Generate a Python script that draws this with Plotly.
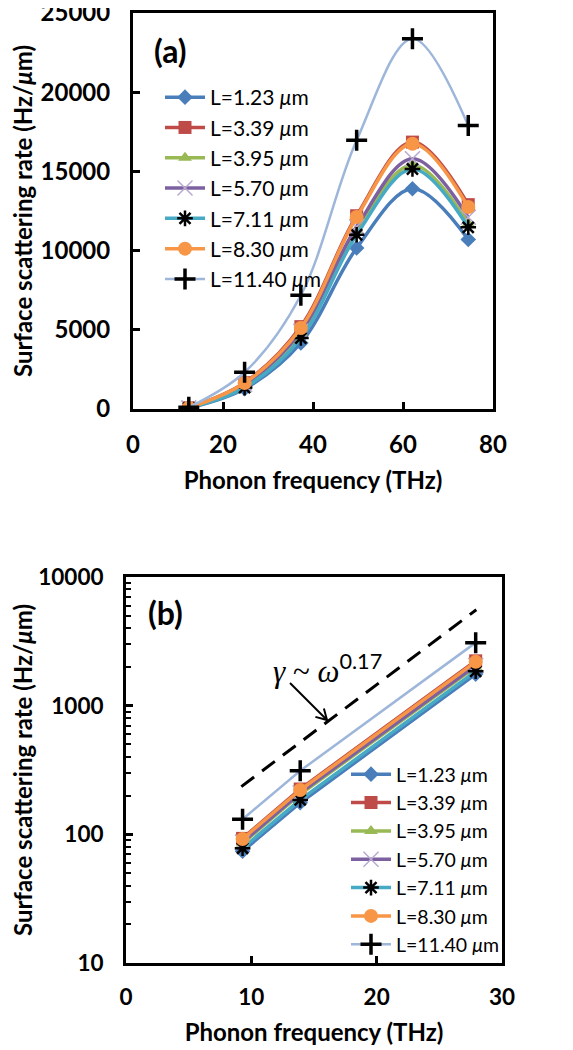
import plotly.graph_objects as go

# ---------------- data ----------------
names = ["L=1.23 <i>μ</i>m", "L=3.39 <i>μ</i>m", "L=3.95 <i>μ</i>m", "L=5.70 <i>μ</i>m",
         "L=7.11 <i>μ</i>m", "L=8.30 <i>μ</i>m", "L=11.40 <i>μ</i>m"]

# panel (a)
freq_a = [12.4, 24.8, 37.3, 49.7, 62.1, 74.5]
rate_a_123 = [60, 1280, 4170, 10160, 13900, 10700]
rate_a_339 = [75, 1660, 5200, 12200, 16850, 12900]
rate_a_395 = [70, 1500, 4800, 11300, 15400, 11700]
rate_a_570 = [72, 1550, 4900, 11500, 15800, 12100]
rate_a_711 = [65, 1350, 4480, 11000, 15150, 11470]
rate_a_830 = [76, 1640, 5110, 12120, 16750, 12750]
rate_a_1140 = [105, 2320, 7180, 16960, 23380, 17890]

# panel (b)
freq_b = [9.3, 13.9, 27.9]
rate_b_123 = [74, 176, 1760]
rate_b_339 = [93, 225, 2230]
rate_b_395 = [85, 205, 2000]
rate_b_570 = [87, 210, 2050]
rate_b_711 = [78, 185, 1850]
rate_b_830 = [92, 221, 2190]
rate_b_1140 = [131, 312, 3090]

# guide line gamma ~ omega^0.17
guide_x = [9.2, 27.95]
guide_y = [235, 5570]

xticks_a = [0, 20, 40, 60, 80]
yticks_a = [0, 5000, 10000, 15000, 20000, 25000]
yticktext_a = ["0", "5000", "10000", "15000", "20000", "25000"]
xticks_b = [0, 10, 20, 30]
yticks_b = [10, 100, 1000, 10000]
yticktext_b = ["10", "100", "1000", "10000"]

# ---------------- styles ----------------
colors = ["#4A7EBB", "#BE4B48", "#98B954", "#7D60A0", "#46AAC5", "#F79646", "#9DB6DA"]
symbols = ["diamond", "square", "triangle-up", "x-thin-open", "asterisk-open", "circle", "cross-thin-open"]
mcolors = ["#4A7EBB", "#BE4B48", "#98B954", "#B9AAD0", "black", "#F79646", "black"]
msizes = [12, 13, 12, 15, 13, 14, 15]
mline_widths = [0, 0, 0, 1.5, 2.5, 0, 3.5]
lwidths = [3.5, 3.5, 3.5, 3.5, 3.5, 3.5, 2.5]

series_a = [rate_a_123, rate_a_339, rate_a_395, rate_a_570, rate_a_711, rate_a_830, rate_a_1140]
series_b = [rate_b_123, rate_b_339, rate_b_395, rate_b_570, rate_b_711, rate_b_830, rate_b_1140]

FONT = "Lato"
OFF = 8  # page body margin of the html page
W, H = 573 - OFF, 1050 - OFF

fig = go.Figure()


def marker(i):
    return dict(symbol=symbols[i], size=msizes[i], color=mcolors[i],
                line=dict(color=mcolors[i], width=mline_widths[i]))


for i in range(7):
    fig.add_trace(go.Scatter(
        x=freq_a, y=series_a[i], name=names[i], mode="lines+markers",
        line=dict(color=colors[i], width=lwidths[i], shape="spline", smoothing=1.0),
        marker=marker(i), xaxis="x", yaxis="y", legend="legend"))

fig.add_trace(go.Scatter(
    x=guide_x, y=guide_y, mode="lines", showlegend=False,
    line=dict(color="black", width=3, dash="16px,10px"), xaxis="x2", yaxis="y2"))

for i in range(7):
    fig.add_trace(go.Scatter(
        x=freq_b, y=series_b[i], name=names[i], mode="lines+markers",
        line=dict(color=colors[i], width=lwidths[i]),
        marker=marker(i), xaxis="x2", yaxis="y2", legend="legend2"))


def px_x(p):
    return (p - OFF) / W


def px_y(p):
    return 1 - (p - OFF) / H


def axis_common(size):
    return dict(
        showline=True, linecolor="black", linewidth=3, mirror=True,
        ticks="inside", ticklen=7, tickwidth=2.5, tickcolor="black",
        showgrid=False, zeroline=False, automargin=False, ticklabeloverflow="allow",
        tickfont=dict(family=FONT, size=size, color="black", weight="bold"),
    )


title_font = dict(family=FONT, size=24, color="black", weight="bold")

# arrow for the annotation (drawn as shapes, pixel positions converted to paper)
tail = (290, 683)
head = (327, 720)
p1 = (315.4, 716.9)
p2 = (323.9, 708.4)
arrow_line = dict(type="line", xref="paper", yref="paper",
                  x0=px_x(tail[0]), y0=px_y(tail[1]), x1=px_x(head[0]), y1=px_y(head[1]),
                  line=dict(color="black", width=2))
arrow_head = dict(type="path", xref="paper", yref="paper",
                  path=f"M {px_x(p1[0])},{px_y(p1[1])} L {px_x(head[0])},{px_y(head[1])} L {px_x(p2[0])},{px_y(p2[1])}",
                  line=dict(color="black", width=2))

fig.update_layout(
    width=W, height=H,
    margin=dict(l=0, r=0, t=0, b=0),
    paper_bgcolor="white", plot_bgcolor="white",
    font=dict(family=FONT, color="black"),
    xaxis=dict(domain=[px_x(133), px_x(493)], range=[0, 80], tickvals=xticks_a,
               anchor="y", ticklabelstandoff=12,
               title=dict(text="Phonon frequency (THz)", font=title_font, standoff=16),
               **axis_common(24)),
    yaxis=dict(domain=[px_y(409), px_y(13)], range=[0, 25000], tickvals=yticks_a,
               ticktext=yticktext_a, anchor="x", ticklabelstandoff=15,
               title=dict(text="Surface scattering rate (Hz/<i>μ</i>m)", font=title_font, standoff=19),
               **axis_common(24)),
    xaxis2=dict(domain=[px_x(126), px_x(502)], range=[0, 30], tickvals=xticks_b,
                anchor="y2", ticklabelstandoff=12,
                title=dict(text="Phonon frequency (THz)", font=title_font, standoff=16),
                **axis_common(22.5)),
    yaxis2=dict(domain=[px_y(963), px_y(577)], type="log", range=[1, 4],
                tickvals=yticks_b, ticktext=yticktext_b, anchor="x2", ticklabelstandoff=15,
                minor=dict(ticks="inside", ticklen=5, tickwidth=2, tickcolor="black",
                           dtick="D1", showgrid=False),
                title=dict(text="Surface scattering rate (Hz/<i>μ</i>m)", font=title_font, standoff=4),
                **axis_common(22.5)),
    legend=dict(x=px_x(160), y=px_y(77), xanchor="left", yanchor="top",
                bgcolor="rgba(0,0,0,0)", font=dict(family=FONT, size=21, color="black"),
                itemwidth=40, tracegroupgap=0),
    legend2=dict(x=px_x(346), y=px_y(755), xanchor="left", yanchor="top",
                 bgcolor="rgba(0,0,0,0)", font=dict(family=FONT, size=19.5, color="black"),
                 itemwidth=40, tracegroupgap=0),
    annotations=[
        dict(text="(a)", x=px_x(170), y=px_y(50), xref="paper", yref="paper",
             xanchor="center", yanchor="middle",
             showarrow=False, font=dict(family=FONT, size=32, color="black", weight="bold")),
        dict(text="(b)", x=px_x(165), y=px_y(612), xref="paper", yref="paper",
             xanchor="center", yanchor="middle",
             showarrow=False, font=dict(family=FONT, size=32, color="black", weight="bold")),
        dict(text="<span style='font-family:Liberation Serif'><i>γ</i> ~ <i>ω</i></span><sup>0.17</sup>",
             x=px_x(327), y=px_y(668), xref="paper", yref="paper", showarrow=False,
             xanchor="center", yanchor="middle",
             font=dict(family=FONT, size=31, color="black")),
    ],
    shapes=[arrow_line, arrow_head],
)

fig.write_html("out.html")
